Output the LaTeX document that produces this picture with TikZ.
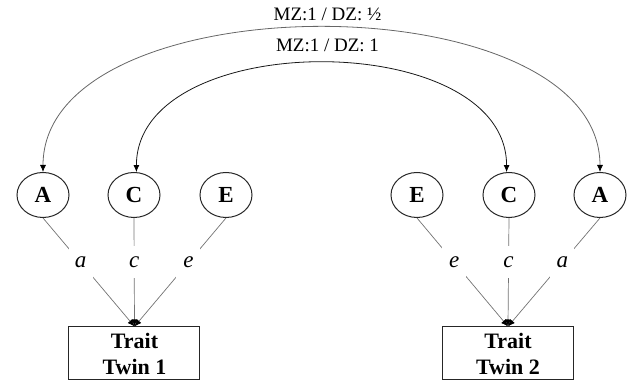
\documentclass[tikz,border=0pt]{standalone}
\usepackage{fontspec}
\setmainfont{Liberation Serif}
\usetikzlibrary{shapes.geometric,arrows.meta,positioning}

\begin{document}
\begin{tikzpicture}[x=0.5pt, y=-0.5pt,
    latent/.style={draw=black!85, line width=0.5pt, ellipse, minimum width=26pt, minimum height=22.5pt, inner sep=0pt, font=\fontsize{11.5}{12}\selectfont\bfseries},
    trait/.style={draw=black!85, line width=0.5pt, rectangle, minimum width=65.5pt, minimum height=26.5pt, inner sep=0pt, align=center, font=\fontsize{11}{13}\selectfont\bfseries},
    loading/.style={draw=black!55, line width=0.35pt, -{Latex[length=3.5pt,width=3pt,color=black]}},
    coef/.style={fill=white, inner sep=0pt, minimum width=12pt, minimum height=16pt, font=\fontsize{11.5}{12}\selectfont\itshape},
    corr/.style={line width=0.4pt, {Latex[length=3.5pt,width=3pt,color=black]}-{Latex[length=3.5pt,width=3pt,color=black]}},
    corrlabel/.style={anchor=base, xshift=3pt, font=\fontsize{9.5}{11}\selectfont}]
    \useasboundingbox (0,0) rectangle (629,383);
    \node[latent] (A1) at (43,195) {A};
    \node[latent] (C1) at (134,195) {C};
    \node[latent] (E1) at (226,195) {E};
    \node[latent] (E2) at (417,195) {E};
    \node[latent] (C2) at (509,195) {C};
    \node[latent] (A2) at (600,195) {A};
    \node[trait] (T1) at (134.5,353.5) {Trait\\Twin 1};
    \node[trait] (T2) at (508,353.5) {Trait\\Twin 2};
    \draw[loading] (A1.south) -- node[coef, pos=0.41] {a} (T1.north);
    \draw[loading] (C1.south) -- node[coef, pos=0.41] {c} (T1.north);
    \draw[loading] (E1.south) -- node[coef, pos=0.41] {e} (T1.north);
    \draw[loading] (E2.south) -- node[coef, pos=0.41] {e} (T2.north);
    \draw[loading] (C2.south) -- node[coef, pos=0.41] {c} (T2.north);
    \draw[loading] (A2.south) -- node[coef, pos=0.41] {a} (T2.north);
    \draw[corr, draw=black!60] (A1.north) .. controls +(0,-192) and +(0,-192) .. node[corrlabel, yshift=3.5pt] {MZ:1 / DZ: ½} (A2.north);
    \draw[corr, draw=black!90] (C1.84) .. controls +(0,-145) and +(0,-145) .. node[corrlabel, yshift=6pt] {MZ:1 / DZ: 1} (C2.96);
\end{tikzpicture}
\end{document}
